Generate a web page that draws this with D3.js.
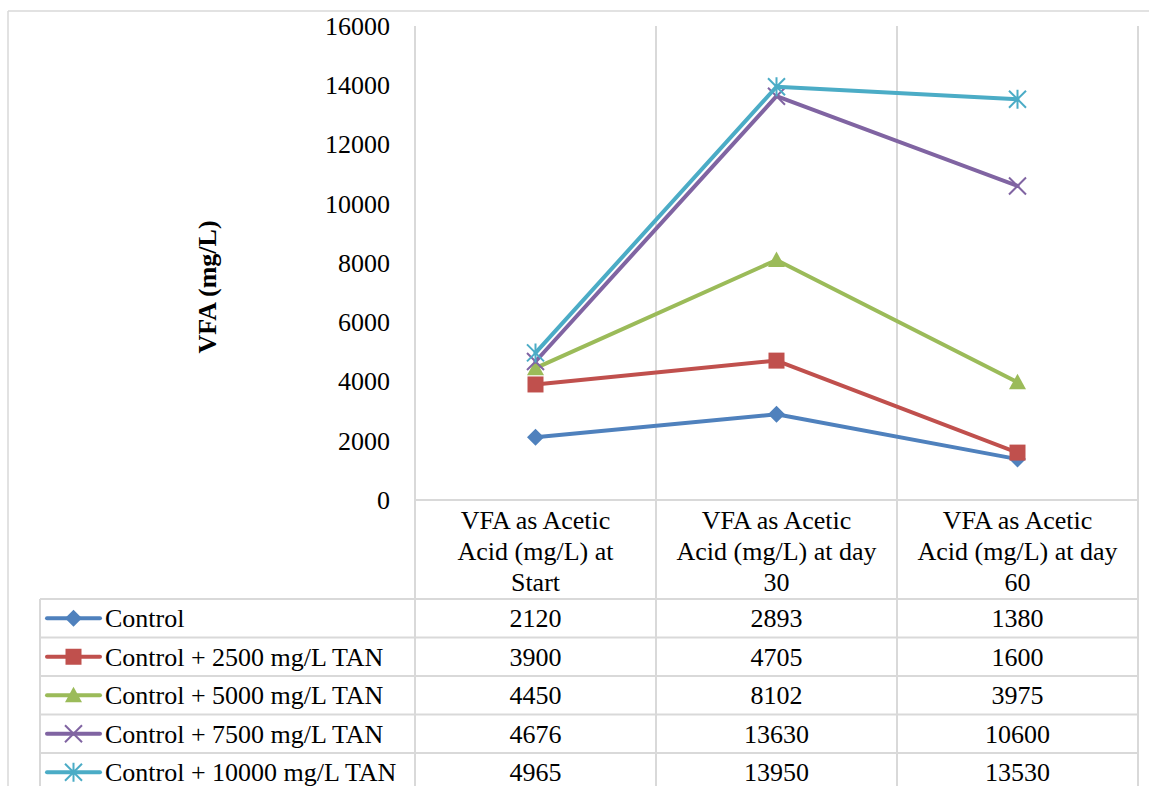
<!DOCTYPE html>
<html>
<head>
<meta charset="utf-8">
<script src="https://cdn.jsdelivr.net/npm/d3@7/dist/d3.min.js"></script>
<style>
  body { margin: 0; background: #fff; }
</style>
</head>
<body>
<svg id="chart" width="1149" height="786"></svg>
<script>
// categories (each split into the lines shown in the table header)
const categories = ['start', 'day30', 'day60'];
const categoryLines = [
    ['VFA as Acetic', 'Acid (mg/L) at', 'Start'],
    ['VFA as Acetic', 'Acid (mg/L) at day', '30'],
    ['VFA as Acetic', 'Acid (mg/L) at day', '60']
];

const seriesNames = [
    'Control',
    'Control + 2500 mg/L TAN',
    'Control + 5000 mg/L TAN',
    'Control + 7500 mg/L TAN',
    'Control + 10000 mg/L TAN'
];
const controlValues = [2120, 2893, 1380];
const tan2500Values = [3900, 4705, 1600];
const tan5000Values = [4450, 8102, 3975];
const tan7500Values = [4676, 13630, 10600];
const tan10000Values = [4965, 13950, 13530];

const yTicks = [0, 2000, 4000, 6000, 8000, 10000, 12000, 14000, 16000];

const colors = ['#4F81BD', '#C0504D', '#9BBB59', '#8064A2', '#4BACC6'];
const markers = ['diamond', 'square', 'triangle', 'x', 'star'];

const series = [controlValues, tan2500Values, tan5000Values, tan7500Values, tan10000Values]
    .map((values, i) => ({ name: seriesNames[i], values, color: colors[i], marker: markers[i] }));

const FONT = 'Liberation Serif';
const fontSize = 26;
const grid = '#D9D9D9';

const svg = d3.select('#chart');

const plotLeft = 415, plotRight = 1138, plotTop = 26, plotBottom = 500;
const tableLeft = 40, tableTop = 599, rowH = 38.5;

const x = d3.scaleBand().domain(categories).range([plotLeft, plotRight]);
const y = d3.scaleLinear().domain([0, 16000]).range([plotBottom, plotTop]);

// outer chart border
svg.append('line').attr('x1', 8).attr('x2', 1149).attr('y1', 11).attr('y2', 11)
    .attr('stroke', grid).attr('stroke-width', 1.5);
svg.append('line').attr('x1', 8).attr('x2', 8).attr('y1', 11).attr('y2', 786)
    .attr('stroke', grid).attr('stroke-width', 1.5);

// vertical grid / table column borders
const colEdges = categories.map(c => x(c)).concat([plotRight]);
colEdges.forEach(cx => {
    svg.append('line').attr('x1', cx).attr('x2', cx).attr('y1', plotTop).attr('y2', 786)
        .attr('stroke', grid).attr('stroke-width', 2);
});

// baseline
svg.append('line').attr('x1', plotLeft).attr('x2', plotRight).attr('y1', y(0)).attr('y2', y(0))
    .attr('stroke', grid).attr('stroke-width', 2);

// table row lines + left border
for (let i = 0; i <= series.length; i++) {
    const ry = tableTop + i * rowH;
    svg.append('line').attr('x1', tableLeft).attr('x2', plotRight).attr('y1', ry).attr('y2', ry)
        .attr('stroke', grid).attr('stroke-width', 2);
}
svg.append('line').attr('x1', tableLeft).attr('x2', tableLeft).attr('y1', tableTop).attr('y2', 786)
    .attr('stroke', grid).attr('stroke-width', 2);

// y axis
const yAxis = svg.append('g')
    .attr('transform', `translate(${plotLeft - 25},0)`)
    .call(d3.axisLeft(y).tickValues(yTicks).tickSize(0).tickPadding(0).tickFormat(d3.format('d')));
yAxis.select('.domain').remove();
yAxis.selectAll('text')
    .attr('font-family', FONT).attr('font-size', fontSize)
    .attr('fill', '#000');

svg.append('text')
    .attr('transform', `translate(207,287) rotate(-90)`)
    .attr('text-anchor', 'middle').attr('dy', '0.35em')
    .attr('font-family', FONT).attr('font-size', 26).attr('font-weight', 'bold')
    .text('VFA (mg/L)');

// category header labels
categories.forEach((c, i) => {
    categoryLines[i].forEach((ln, j) => {
        svg.append('text')
            .attr('x', x(c) + x.bandwidth() / 2)
            .attr('y', 520 + j * 31)
            .attr('dy', '0.35em')
            .attr('text-anchor', 'middle')
            .attr('font-family', FONT).attr('font-size', fontSize)
            .text(ln);
    });
});

// marker drawing
function drawMarker(g, type, color, cx, cy) {
    const s = 8.5;
    if (type === 'diamond') {
        g.append('path').attr('d', `M${cx},${cy - s}L${cx + s},${cy}L${cx},${cy + s}L${cx - s},${cy}Z`)
            .attr('fill', color);
    } else if (type === 'square') {
        g.append('rect').attr('x', cx - 8).attr('y', cy - 8).attr('width', 16).attr('height', 16)
            .attr('fill', color);
    } else if (type === 'triangle') {
        g.append('path').attr('d', `M${cx},${cy - s}L${cx + s},${cy + 7}L${cx - s},${cy + 7}Z`)
            .attr('fill', color);
    } else if (type === 'x') {
        g.append('path').attr('d', `M${cx - s},${cy - s}L${cx + s},${cy + s}M${cx - s},${cy + s}L${cx + s},${cy - s}`)
            .attr('stroke', color).attr('stroke-width', 2).attr('fill', 'none');
    } else {
        g.append('path').attr('d', `M${cx - s},${cy - s}L${cx + s},${cy + s}M${cx - s},${cy + s}L${cx + s},${cy - s}M${cx},${cy - s - 1}L${cx},${cy + s + 1}`)
            .attr('stroke', color).attr('stroke-width', 2).attr('fill', 'none');
    }
}

// lines and markers
const line = d3.line()
    .x((d, i) => x(categories[i]) + x.bandwidth() / 2)
    .y(d => y(d));

series.forEach(s => {
    const g = svg.append('g');
    g.append('path').datum(s.values).attr('d', line)
        .attr('fill', 'none').attr('stroke', s.color).attr('stroke-width', 4)
        .attr('stroke-linejoin', 'round').attr('stroke-linecap', 'round');
    s.values.forEach((v, i) => {
        drawMarker(g, s.marker, s.color, x(categories[i]) + x.bandwidth() / 2, y(v));
    });
});

// data table rows
series.forEach((s, r) => {
    const cy = tableTop + r * rowH + rowH / 2;
    const g = svg.append('g');
    g.append('line').attr('x1', 47).attr('x2', 100).attr('y1', cy).attr('y2', cy)
        .attr('stroke', s.color).attr('stroke-width', 4).attr('stroke-linecap', 'round');
    drawMarker(g, s.marker, s.color, 73.5, cy);
    g.append('text').attr('x', 105).attr('y', cy).attr('dy', '0.35em')
        .attr('font-family', FONT).attr('font-size', fontSize)
        .text(s.name);
    s.values.forEach((v, i) => {
        g.append('text')
            .attr('x', x(categories[i]) + x.bandwidth() / 2)
            .attr('y', cy).attr('dy', '0.35em')
            .attr('text-anchor', 'middle')
            .attr('font-family', FONT).attr('font-size', fontSize)
            .text(v);
    });
});
</script>
</body>
</html>
